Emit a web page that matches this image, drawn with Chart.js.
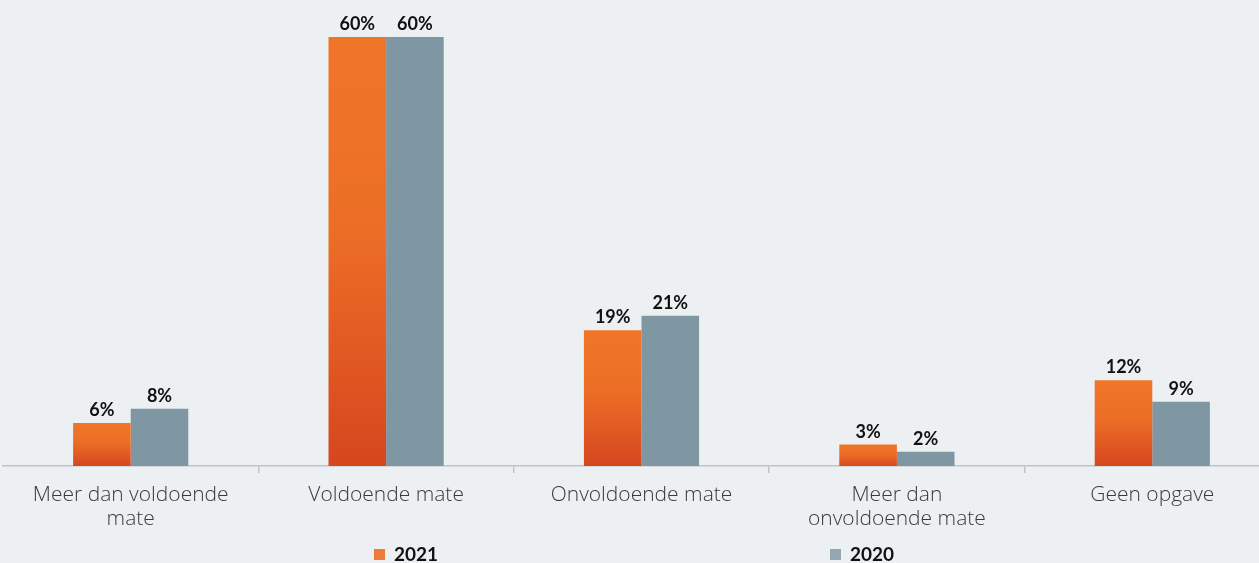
<!DOCTYPE html>
<html>
<head>
<meta charset="utf-8">
<script src="https://cdn.jsdelivr.net/npm/chart.js@4/dist/chart.umd.min.js"></script>
<style>
  html, body { margin: 0; padding: 0; background: #ECF0F3; overflow: hidden; }
  #wrap { position: relative; width: 1280px; height: 563px; }
</style>
</head>
<body>
<div id="wrap"><canvas id="myChart" width="1280" height="563"></canvas></div>
<script>
const categories = [
    ['Meer dan voldoende', 'mate'],
    'Voldoende mate',
    'Onvoldoende mate',
    ['Meer dan', 'onvoldoende mate'],
    'Geen opgave'
];
const values2021 = [6, 60, 19, 3, 12];
const values2020 = [8, 60, 21, 2, 9];
const seriesLabels = ['2021', '2020'];

function orangeFill(context) {
    const chart = context.chart;
    if (!chart.chartArea || context.type !== 'data') return '#EE7427';
    const y = chart.scales.y;
    const top = y.getPixelForValue(context.raw);
    const base = y.getPixelForValue(0);
    if (base - top < 1) return '#EE7427';
    const g = chart.ctx.createLinearGradient(0, top, 0, base);
    g.addColorStop(0, '#EF7628');
    g.addColorStop(0.45, '#EC6E26');
    g.addColorStop(1, '#D6461F');
    return g;
}

// percentage labels above each bar
const valueLabels = {
    id: 'valueLabels',
    afterDatasetsDraw(chart) {
        const ctx = chart.ctx;
        ctx.save();
        ctx.font = 'bold 18px Lato, sans-serif';
        ctx.fillStyle = '#111';
        ctx.textAlign = 'center';
        ctx.textBaseline = 'alphabetic';
        chart.data.datasets.forEach((ds, i) => {
            chart.getDatasetMeta(i).data.forEach((bar, j) => {
                ctx.fillText(ds.data[j] + '%', bar.x, bar.y - 7);
            });
        });
        ctx.restore();
    }
};

// legend spread out under the axis
const spreadLegend = {
    id: 'spreadLegend',
    afterDraw(chart) {
        const ctx = chart.ctx;
        const slots = [374, 830];
        const swatches = ['#EE7A3C', '#93A7B2'];
        ctx.save();
        ctx.font = 'bold 19px Lato, sans-serif';
        ctx.textBaseline = 'middle';
        chart.data.datasets.forEach((ds, i) => {
            ctx.fillStyle = swatches[i];
            ctx.fillRect(slots[i], 549, 11, 11);
            ctx.fillStyle = '#111';
            ctx.fillText(ds.label, slots[i] + 20, 555);
        });
        ctx.restore();
    }
};

const ctx = document.getElementById('myChart').getContext('2d');
const chart = new Chart(ctx, {
    type: 'bar',
    data: {
        labels: categories,
        datasets: [{
            label: seriesLabels[0],
            data: values2021,
            backgroundColor: orangeFill,
            categoryPercentage: 0.451,
            barPercentage: 1
        }, {
            label: seriesLabels[1],
            data: values2020,
            backgroundColor: '#7F97A3',
            categoryPercentage: 0.451,
            barPercentage: 1
        }]
    },
    options: {
        responsive: false,
        animation: false,
        layout: { padding: { left: 3, right: 0, top: 0, bottom: 0 } },
        plugins: {
            legend: { display: false },
            tooltip: { enabled: false }
        },
        scales: {
            x: {
                grid: {
                    drawOnChartArea: false,
                    drawTicks: true,
                    tickLength: 7,
                    color: (c) => c.index === 0 ? 'rgba(0,0,0,0)' : '#BFC3C6',
                    lineWidth: 1.5
                },
                border: { color: '#BFC3C6', width: 1.5 },
                ticks: {
                    color: '#3A3A3A',
                    font: { family: '"Open Sans", sans-serif', size: 21, weight: 300, lineHeight: 1.15 },
                    padding: 10,
                    maxRotation: 0,
                    autoSkip: false
                },
                afterFit(scale) { scale.height = 97; }
            },
            y: {
                display: false,
                min: 0,
                max: 65.17
            }
        }
    },
    plugins: [valueLabels, spreadLegend]
});
</script>
</body>
</html>
